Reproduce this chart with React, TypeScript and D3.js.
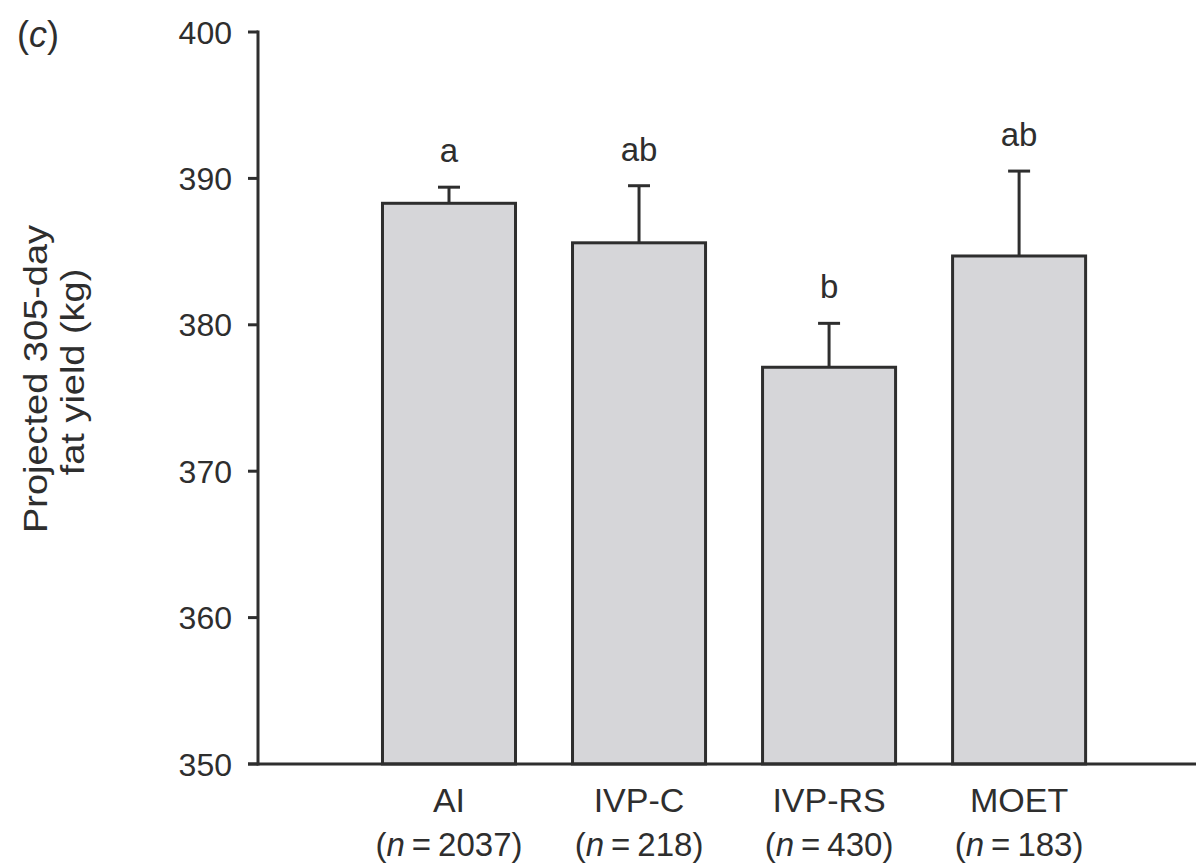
import React from "react";
import * as d3 from "d3";

// Groups, sample sizes, means and standard errors of projected 305-day fat yield
const groups = ["AI", "IVP-C", "IVP-RS", "MOET"];
const sampleSizes = [2037, 218, 430, 183];
const means = [388.3, 385.6, 377.1, 384.7];
const errors = [1.1, 3.9, 3.0, 5.8];
const letters = ["a", "ab", "b", "ab"];
const yTicks = [350, 360, 370, 380, 390, 400];

const W = 1196;
const H = 864;
const axisX = 258;
const axisY = 764;
const ink = "#2e2e2e";
const font = "'Liberation Sans', Arial, Helvetica, sans-serif";

export default function App() {
  const y = d3.scaleLinear().domain([350, 400]).range([axisY, 32]);
  const x = d3
    .scaleBand<string>()
    .domain(groups)
    .range([axisX, W])
    .paddingInner(0.3)
    .paddingOuter(0.618)
    .align(0.53);
  const bw = x.bandwidth();

  return (
    <svg
      width={W}
      height={H}
      style={{ position: "absolute", left: 0, top: 0, background: "#fff" }}
      fontFamily={font}
    >
      {/* panel letter */}
      <text x={17} y={47} fontSize={36} fill={ink}>
        (<tspan fontStyle="italic">c</tspan>)
      </text>

      {/* y-axis title, two lines */}
      <g transform="translate(47,379) rotate(-90) scale(1.15,1)">
        <text textAnchor="middle" fontSize={33} fill={ink}>
          Projected 305-day
        </text>
      </g>
      <g transform="translate(84,372) rotate(-90) scale(1.15,1)">
        <text textAnchor="middle" fontSize={33} fill={ink}>
          fat yield (kg)
        </text>
      </g>

      {/* bars with standard-error whiskers and significance letters */}
      {groups.map((g, i) => {
        const x0 = x(g)!;
        const cx = x0 + bw / 2;
        const top = y(means[i]);
        const cap = y(means[i] + errors[i]);
        return (
          <g key={g}>
            <rect
              x={x0}
              y={top}
              width={bw}
              height={axisY - top}
              fill="#d6d6d9"
              stroke={ink}
              strokeWidth={3}
            />
            <line x1={cx} x2={cx} y1={top} y2={cap} stroke={ink} strokeWidth={3} />
            <line x1={cx - 11} x2={cx + 11} y1={cap} y2={cap} stroke={ink} strokeWidth={3} />
            <text x={cx} y={cap - 25} textAnchor="middle" fontSize={33} fill={ink}>
              {letters[i]}
            </text>
            <text x={cx} y={812} textAnchor="middle" fontSize={34} fill={ink}>
              {g}
            </text>
            <text x={cx} y={856} textAnchor="middle" fontSize={33} fill={ink}>
              (<tspan fontStyle="italic">n</tspan>
              <tspan dx={7}>=</tspan>
              <tspan dx={7}>{sampleSizes[i]})</tspan>
            </text>
          </g>
        );
      })}

      {/* y axis */}
      <line x1={axisX} x2={axisX} y1={30.5} y2={axisY + 1.5} stroke={ink} strokeWidth={3} />
      {yTicks.map((t) => (
        <g key={t}>
          <line x1={axisX - 10} x2={axisX} y1={y(t)} y2={y(t)} stroke={ink} strokeWidth={3} />
          <text
            x={axisX - 26}
            y={y(t)}
            dy="0.36em"
            textAnchor="end"
            fontSize={32}
            fill={ink}
          >
            {t}
          </text>
        </g>
      ))}

      {/* x axis */}
      <line x1={axisX - 10} x2={W} y1={axisY} y2={axisY} stroke={ink} strokeWidth={3} />
    </svg>
  );
}
